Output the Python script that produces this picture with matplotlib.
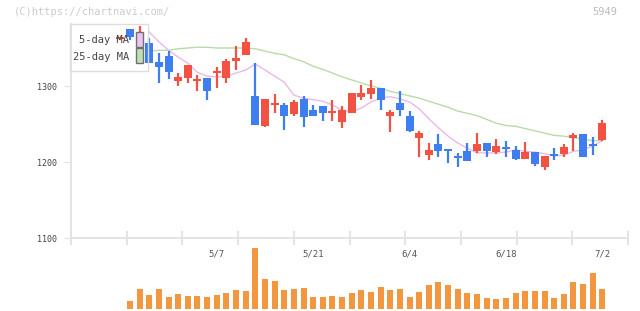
import numpy as np
import matplotlib.pyplot as plt
from matplotlib.patches import Rectangle

# daily prices, first entry is the candle at index -1 (half hidden by the legend)
opens = [1362, 1375, 1362, 1356, 1332, 1339, 1307, 1311, 1307, 1310, 1317,
         1311, 1333, 1341, 1287, 1247, 1275, 1275, 1263, 1283, 1269,
         1274, 1265, 1253, 1265, 1286, 1289, 1297, 1261, 1278, 1261,
         1232, 1209, 1224, 1216, 1207, 1214, 1214, 1225, 1213, 1219,
         1216, 1204, 1213, 1194, 1210, 1211, 1232, 1237, 1224, 1229]
highs = [1364, 1375, 1379, 1363, 1343, 1346, 1317, 1328, 1314, 1311, 1325,
         1335, 1352, 1363, 1330, 1283, 1289, 1278, 1281, 1287, 1275,
         1274, 1282, 1274, 1291, 1301, 1308, 1297, 1268, 1293, 1267,
         1241, 1225, 1237, 1216, 1212, 1225, 1238, 1225, 1230, 1228,
         1221, 1226, 1213, 1208, 1218, 1224, 1238, 1237, 1233, 1255]
lows = [1361, 1360, 1358, 1330, 1304, 1309, 1300, 1304, 1294, 1282, 1297,
        1304, 1321, 1341, 1249, 1246, 1265, 1242, 1261, 1246, 1260,
        1254, 1254, 1245, 1264, 1281, 1283, 1268, 1240, 1261, 1240,
        1207, 1203, 1207, 1199, 1194, 1201, 1212, 1206, 1211, 1207,
        1203, 1204, 1195, 1189, 1202, 1206, 1214, 1207, 1209, 1228]
closes = [1363, 1365, 1371, 1330, 1325, 1319, 1312, 1328, 1309, 1294, 1320,
          1333, 1337, 1358, 1249, 1283, 1278, 1261, 1279, 1259, 1261,
          1265, 1267, 1269, 1291, 1291, 1297, 1281, 1266, 1268, 1241,
          1238, 1216, 1215, 1214, 1205, 1201, 1224, 1214, 1221, 1217,
          1204, 1213, 1198, 1208, 1208, 1220, 1236, 1207, 1221, 1251]
# volume from index 0
volume = [8, 20, 14, 20, 12, 15, 13, 13, 12, 14, 16, 19, 18, 61, 30, 28,
          19, 20, 21, 12, 12, 13, 12, 16, 19, 17, 22, 19, 20, 12, 17, 24, 27,
          24, 20, 16, 15, 11, 10, 11, 16, 18, 18, 18, 11, 15, 27, 25, 36, 20]
volume = [v * 1000 for v in volume]

# moving averages, from index 2 on
ma5 = [1371, 1358, 1347, 1338, 1330, 1318, 1313, 1312, 1313, 1317,
       1321, 1329, 1321, 1313, 1305, 1288, 1284, 1282, 1280, 1275,
       1268, 1266, 1271, 1279, 1284, 1286, 1283, 1279, 1270, 1257,
       1245, 1234, 1225, 1218, 1212, 1212, 1212, 1213, 1216, 1214,
       1213, 1211, 1208, 1209, 1214, 1216, 1221, 1228]
ma25 = [1346, 1347, 1347, 1349, 1350, 1351, 1351, 1350, 1350, 1350,
        1350, 1349, 1346, 1343, 1341, 1336, 1332, 1326, 1322, 1317,
        1312, 1308, 1304, 1300, 1297, 1293, 1290, 1287, 1284, 1280,
        1276, 1272, 1267, 1264, 1261, 1256, 1251, 1248, 1247, 1244,
        1241, 1238, 1235, 1234, 1232, 1230, 1228, 1228]

date_idx = [9, 19, 29, 39, 49]
date_labels = ["5/7", "5/21", "6/4", "6/18", "7/2"]

W, H = 640, 311
fig = plt.figure(figsize=(W / 100, H / 100), dpi=100)
mono = "DejaVu Sans Mono"
grid_c = "#e2e2e2"
red, blue = "#f25242", "#3f7ef0"

def px(x0, y0, x1, y1):
    return [x0 / W, 1 - y1 / H, (x1 - x0) / W, (y1 - y0) / H]

xmin, xmax = -6.12, 51.66
ax = fig.add_axes(px(71, 24, 628, 238))
ax.set_xlim(xmin, xmax)
ax.set_ylim(1100, 1100 + 214 / 0.76)

n = len(opens)
x = np.arange(n) - 1
o, hi, lo, c = map(np.array, (opens, highs, lows, closes))
up = c >= o
cols = np.where(up, red, blue)
ax.vlines(x, lo, hi, colors=cols, lw=1.6, zorder=3)
body_bot = np.minimum(o, c)
body_h = np.maximum(np.abs(c - o), 2.6)
ax.bar(x, body_h, bottom=body_bot, width=0.83, color=cols, zorder=4)

xm = np.arange(2, 2 + len(ma5))
ax.plot(xm, ma25, color="#b8dca8", lw=1, zorder=2)
ax.plot(xm, ma5, color="#eab8ec", lw=1, zorder=2)

for s in ["top", "right"]:
    ax.spines[s].set_visible(False)
ax.spines["left"].set_color(grid_c)
ax.spines["bottom"].set_color(grid_c)
ax.spines["bottom"].set_linewidth(1.3)
ax.spines["left"].set_linewidth(1.3)
ax.set_yticks([1100, 1200, 1300])
ax.tick_params(axis="y", length=5, color=grid_c, labelsize=6, labelcolor="#444444", pad=5)
for t in ax.get_yticklabels():
    t.set_family(mono)
ax.set_xticks(np.linspace(xmin, xmax, 11))
ax.set_xticklabels([])
ax.tick_params(axis="x", which="major", direction="inout", length=10, color=grid_c, width=1.3)
ax.set_xticks(date_idx, minor=True)
ax.set_xticklabels(date_labels, minor=True, family=mono, fontsize=6.5, color="#555555")
ax.tick_params(axis="x", which="minor", length=0, pad=8)

# volume
axv = fig.add_axes(px(71, 245, 628, 309))
axv.patch.set_alpha(0)
axv.bar(np.arange(len(volume)), volume, width=0.62, color="#f2963f")
axv.set_xlim(xmin, xmax)
axv.set_ylim(0, 64000)
axv.axis("off")

# legend box
fig.patches.append(Rectangle((70 / W, 1 - 71 / H), 78 / W, 47 / H, transform=fig.transFigure,
                             fill=False, ec="#dddddd", lw=1, zorder=1))
fig.text(129 / W, 1 - 40 / H, "5-day MA", ha="right", va="center", family=mono,
         fontsize=7.5, color="#444444", zorder=10)
fig.text(129 / W, 1 - 57 / H, "25-day MA", ha="right", va="center", family=mono,
         fontsize=7.5, color="#444444", zorder=10)
fig.patches.append(Rectangle((136 / W, 1 - 47 / H), 7 / W, 15 / H, transform=fig.transFigure,
                             fc="#ecc4ee", ec="#707070", lw=1, zorder=10))
fig.patches.append(Rectangle((136 / W, 1 - 63 / H), 7 / W, 15 / H, transform=fig.transFigure,
                             fc="#bfe0b2", ec="#707070", lw=1, zorder=10))

fig.text(14 / W, 1 - 12 / H, "(C)https://chartnavi.com/", ha="left", va="center",
         family=mono, fontsize=7.5, color="#cccccc")
fig.text(617 / W, 1 - 12 / H, "5949", ha="right", va="center", family=mono,
         fontsize=7.5, color="#bbbbbb")

plt.savefig("out.png", dpi=100)
